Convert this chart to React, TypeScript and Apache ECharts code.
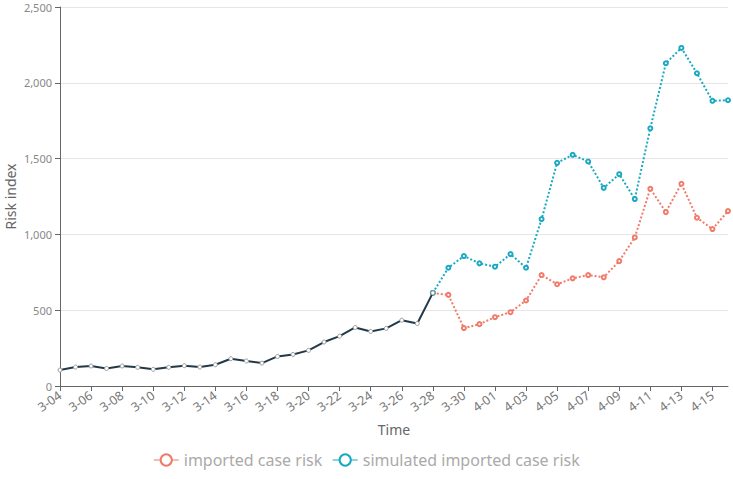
import React, { useEffect, useRef } from "react";
import * as echarts from "echarts";

const categories = [
  "3-04","3-05","3-06","3-07","3-08","3-09","3-10","3-11","3-12","3-13","3-14","3-15","3-16","3-17","3-18","3-19","3-20","3-21","3-22","3-23","3-24","3-25","3-26","3-27","3-28","3-29","3-30","3-31",
  "4-01","4-02","4-03","4-04","4-05","4-06","4-07","4-08","4-09","4-10","4-11","4-12","4-13","4-14","4-15","4-16",
];

// observed common part (3-04 .. 3-28)
const baseValues = [
  105, 125, 132, 116, 132, 123, 110, 123, 134, 125, 140, 180, 165, 151, 195, 208, 235, 290, 329, 386, 360, 380, 434, 412, 614,
];

// from 3-28 onward
const importedValues = [
  614, 601, 382, 408, 454, 487, 564, 732, 671, 710, 732, 717, 824, 980, 1301, 1147, 1334, 1110, 1035, 1154,
];

const simulatedValues = [
  614, 780, 857, 809, 787, 870, 780, 1101, 1472, 1525, 1481, 1307, 1397, 1233, 1700, 2129, 2230, 2063, 1881, 1885,
];

const yTicks = { min: 0, max: 2500, interval: 500 };

function pad(values: number[], offset: number): (number | null)[] {
  const out: (number | null)[] = categories.map(() => null);
  values.forEach((v, i) => (out[offset + i] = v));
  return out;
}

export default function App() {
  const ref = useRef<HTMLDivElement>(null);
  useEffect(() => {
    if (!ref.current) return;
    document.body.style.margin = "0";
    const chart = echarts.init(ref.current, undefined, { renderer: "svg" });
    const offset = baseValues.length - 1;
    chart.setOption({
      animation: false,
      textStyle: { fontFamily: "Noto Sans" },
      grid: { left: 60, right: 5, top: 7, bottom: 93, outerBoundsMode: "none", containLabel: false },
      legend: {
        bottom: 6,
        left: "center",
        itemWidth: 25,
        itemHeight: 14,
        itemGap: 10,
        lineStyle: { type: "solid", width: 1 },
        textStyle: { color: "#aaa", fontSize: 16 },
        data: ["imported case risk", "simulated imported case risk"],
      },
      xAxis: {
        type: "category",
        boundaryGap: false,
        data: categories,
        name: "Time",
        nameLocation: "middle",
        nameGap: 36,
        nameMoveOverlap: false,
        nameTextStyle: { color: "#666", fontSize: 14 },
        axisLine: { lineStyle: { color: "#666" } },
        axisTick: { interval: 1, alignWithLabel: true, lineStyle: { color: "#666" } },
        axisLabel: { interval: 1, rotate: 35, color: "#777", fontSize: 12.5 },
      },
      yAxis: {
        type: "value",
        min: yTicks.min,
        max: yTicks.max,
        interval: yTicks.interval,
        name: "Risk index",
        nameLocation: "middle",
        nameGap: 43,
        nameMoveOverlap: false,
        nameTextStyle: { color: "#666", fontSize: 14 },
        axisLine: { show: true, lineStyle: { color: "#666" } },
        axisTick: { show: true, lineStyle: { color: "#666" } },
        axisLabel: { color: "#888", fontSize: 11 },
        splitLine: { lineStyle: { color: "#e6e6e6" } },
      },
      series: [
        {
          name: "imported case risk",
          type: "line",
          data: pad(importedValues, offset),
          symbol: "emptyCircle",
          symbolSize: 4,
          itemStyle: { color: "#f07b6a" },
          lineStyle: { type: "dotted", width: 2, color: "#f07b6a" },
          z: 2,
        },
        {
          name: "simulated imported case risk",
          type: "line",
          data: pad(simulatedValues, offset),
          symbol: "emptyCircle",
          symbolSize: 4,
          itemStyle: { color: "#1aa9c2" },
          lineStyle: { type: "dotted", width: 2, color: "#1aa9c2" },
          z: 2,
        },
        {
          name: "observed",
          type: "line",
          data: pad(baseValues, 0),
          symbol: "circle",
          symbolSize: 4,
          itemStyle: { color: "#fff", borderColor: "#999", borderWidth: 1 },
          lineStyle: { type: "solid", width: 2, color: "#22394a" },
          z: 3,
        },
      ],
    });
    return () => chart.dispose();
  }, []);
  return <div ref={ref} style={{ width: 733, height: 479 }} />;
}
